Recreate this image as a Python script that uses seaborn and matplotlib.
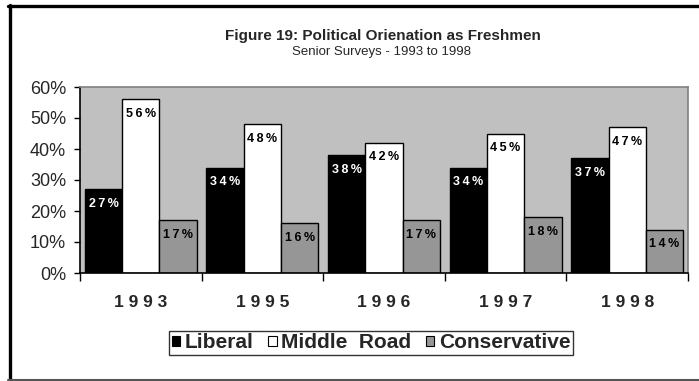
import matplotlib
matplotlib.use("Agg")
import matplotlib.pyplot as plt
from matplotlib.lines import Line2D
from matplotlib.patches import Patch
import seaborn as sns
import pandas as pd

years = ["1993", "1995", "1996", "1997", "1998"]
series = ["Liberal", "Middle Road", "Conservative"]
liberal = [27, 34, 38, 34, 37]
middle_road = [56, 48, 42, 45, 47]
conservative = [17, 16, 17, 18, 14]
y_ticks = [0, 10, 20, 30, 40, 50, 60]

colors = ["#000000", "#FFFFFF", "#969696"]
label_colors = ["white", "black", "black"]

df = pd.DataFrame({
    "year": years * 3,
    "series": [series[0]] * 5 + [series[1]] * 5 + [series[2]] * 5,
    "value": liberal + middle_road + conservative,
})

sns.set_style("white")
plt.rcParams["font.family"] = ["Liberation Sans", "DejaVu Sans"]

fig = plt.figure(figsize=(6.99, 3.81), dpi=100)
ax = fig.add_axes([80 / 699, 1 - 273 / 381, 608 / 699, 186 / 381])

sns.barplot(data=df, x="year", y="value", hue="series", hue_order=series,
            order=years, palette=colors, edgecolor="black", linewidth=1.0,
            width=0.92, saturation=1, ax=ax, legend=False)

ax.set_facecolor("#C0C0C0")
ax.set_xlim(-0.5, len(years) - 0.5)
ax.set_ylim(0, 60)
ax.set_xlabel("")
ax.set_ylabel("")

# value labels inside the top of each bar, letter-spaced
THIN = "\u2009"
for cont, col in zip(ax.containers, label_colors):
    for bar in cont:
        v = bar.get_height()
        txt = THIN.join(f"{v:.0f}%")
        ax.annotate(txt, (bar.get_x() + bar.get_width() / 2, v),
                    xytext=(0, -10.5), textcoords="offset points",
                    ha="center", va="center", fontsize=9, fontweight="bold",
                    color=col)

# y axis
ax.set_yticks(y_ticks)
ax.set_yticklabels([f"{t}%" for t in y_ticks], fontsize=13)
ax.tick_params(axis="y", direction="out", length=4, width=1, color="black",
               pad=6, left=True)

# x axis: labels at category centers, tick marks at the boundaries
ax.set_xticks(range(len(years)))
ax.set_xticklabels([" ".join(y) for y in years], fontsize=12.5,
                   fontweight="bold")
ax.set_xticks([i - 0.5 for i in range(len(years) + 1)], minor=True)
ax.tick_params(axis="x", which="major", length=0, pad=16)
ax.tick_params(axis="x", which="minor", direction="out", length=6,
               width=1, color="black", bottom=True)

for side in ["left", "bottom"]:
    ax.spines[side].set_color("black")
    ax.spines[side].set_linewidth(1.2)
for side in ["top", "right"]:
    ax.spines[side].set_color("#808080")
    ax.spines[side].set_linewidth(1.2)

# legend
handles = [Patch(facecolor=c, edgecolor="black", linewidth=0.8) for c in colors]
leg = fig.legend(handles, ["Liberal", "Middle  Road", "Conservative"],
                 loc="center", bbox_to_anchor=(371 / 699, 1 - 343 / 381),
                 ncol=3, frameon=True, fancybox=False, edgecolor="black",
                 prop={"weight": "bold", "size": 15}, handlelength=0.42,
                 handleheight=0.42, handletextpad=0.2, columnspacing=0.7,
                 borderpad=0.12, borderaxespad=0)
leg.get_frame().set_linewidth(1.0)

# titles
fig.text(383 / 699, 1 - 36 / 381, "Figure 19: Political Orienation as Freshmen",
         ha="center", va="center", fontsize=11, fontweight="bold")
fig.text(381 / 699, 1 - 52 / 381, "Senior Surveys - 1993 to 1998",
         ha="center", va="center", fontsize=9.5)

# outer frame
fig.add_artist(Line2D([9.5 / 699, 9.5 / 699], [1 - 380 / 381, 1 - 5 / 381],
                      transform=fig.transFigure, color="black", linewidth=2.4))
fig.add_artist(Line2D([8 / 699, 1.0], [1 - 6 / 381, 1 - 6 / 381],
                      transform=fig.transFigure, color="black", linewidth=2.4))
fig.add_artist(Line2D([8 / 699, 1.0], [1 - 379.5 / 381, 1 - 379.5 / 381],
                      transform=fig.transFigure, color="#555555", linewidth=1.5))

fig.savefig("out.png", dpi=100)
